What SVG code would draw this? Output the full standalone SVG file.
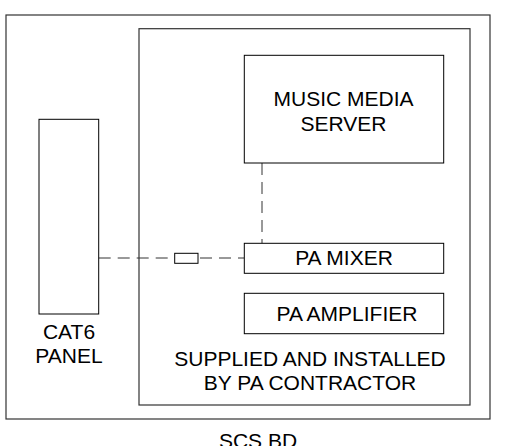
<svg xmlns="http://www.w3.org/2000/svg" width="531" height="446" viewBox="0 0 531 446">
<style>
.box{fill:#fff;stroke:#000;stroke-width:1}
.frame{fill:none;stroke:#333;stroke-width:1.2}
.t{font-family:"Liberation Sans",Arial,sans-serif;font-size:21px;fill:#000;text-anchor:middle}
.dash{fill:none;stroke:#333;stroke-width:1;stroke-dasharray:12,7}
</style>
<rect width="531" height="446" fill="#fff"/>
<g id="scs-bd">
<rect class="frame" x="6" y="15" width="484" height="404"/>
<text class="t" x="258" y="448">SCS BD</text>
</g>
<g id="pa-contractor">
<rect class="frame" x="139" y="28.7" width="331" height="376.3"/>
<text class="t" x="310" y="366">SUPPLIED AND INSTALLED</text>
<text class="t" x="310" y="390">BY PA CONTRACTOR</text>
</g>
<g id="connectors">
<line class="dash" x1="98.7" y1="258" x2="174.7" y2="258"/>
<line class="dash" x1="198" y1="258" x2="244" y2="258" stroke-dashoffset="-2"/>
<line class="dash" x1="262" y1="163" x2="262" y2="243.3"/>
<rect class="box" x="174.7" y="253.3" width="23.3" height="10"/>
</g>
<g id="cat6-panel">
<rect class="box" x="39" y="119.3" width="59.7" height="194.7"/>
<text class="t" x="69" y="339">CAT6</text>
<text class="t" x="69" y="363">PANEL</text>
</g>
<g id="music-media-server">
<rect class="box" x="244.3" y="55.3" width="199.4" height="107.7"/>
<text class="t" x="343.5" y="106">MUSIC MEDIA</text>
<text class="t" x="343.5" y="131">SERVER</text>
</g>
<g id="pa-mixer">
<rect class="box" x="244.3" y="243.3" width="199.4" height="30"/>
<text class="t" x="344" y="265">PA MIXER</text>
</g>
<g id="pa-amplifier">
<rect class="box" x="244.3" y="293.3" width="199.4" height="40.4"/>
<text class="t" x="347" y="320.7">PA AMPLIFIER</text>
</g>
</svg>
